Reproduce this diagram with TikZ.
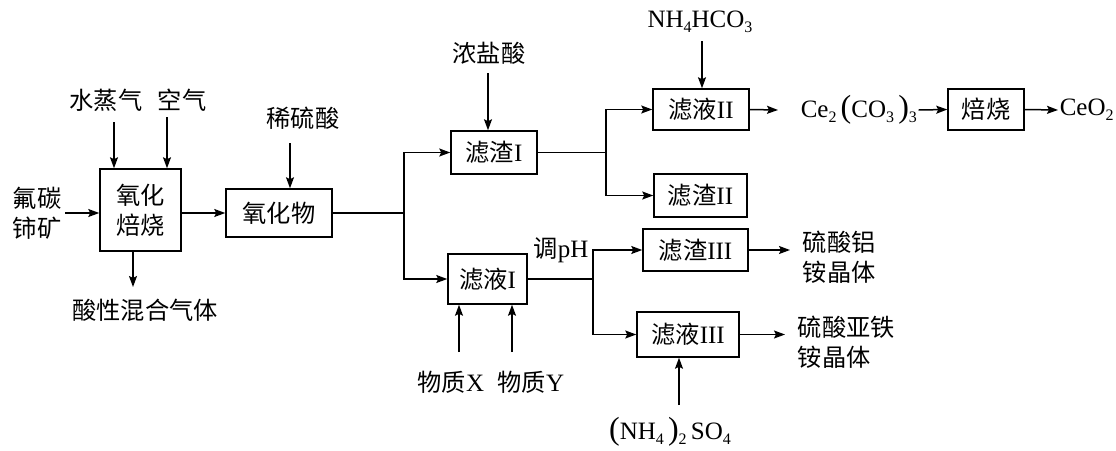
\documentclass[tikz,border=0pt]{standalone}
\usepackage{fontspec}
\setmainfont{Liberation Serif}
\newfontfamily\cjk[Scale=0.97]{Noto Sans CJK SC}
\usetikzlibrary{arrows.meta,calc}
\newcommand\zh[1]{{\cjk #1}}
\newcommand\sbs[1]{\raisebox{-0.4ex}{\fontsize{16}{16}\selectfont #1}}
\newcommand\bigp[1]{{\fontsize{32}{32}\selectfont #1}}
\begin{document}
\begin{tikzpicture}[x=1pt,y=-1pt,line width=1.5pt,
  font=\fontsize{25}{30}\selectfont,
  box/.style={draw,inner sep=0pt,line width=1.5pt},
  lbl/.style={inner sep=1pt},
  arr/.style={-{Stealth[length=11pt,width=8pt,inset=2pt]}}]
\fill[white] (0,0) rectangle (1116,450);
\useasboundingbox (0,0) rectangle (1116,450);
% boxes
\node[box,minimum width=81,minimum height=82,align=center] (ox) at (140.5,210) {\zh{氧化}\\\zh{焙烧}};
\node[box,minimum width=106,minimum height=48] (oxw) at (279,213) {\zh{氧化物}};
\node[box,minimum width=86,minimum height=43] (zz1) at (494,152.5) {\zh{滤渣}I};
\node[box,minimum width=96,minimum height=41] (zy2) at (701,109.5) {\zh{滤液}II};
\node[box,minimum width=93,minimum height=43] (zz2) at (700.5,195.5) {\zh{滤渣}II};
\node[box,minimum width=76,minimum height=41] (bs) at (986,109.5) {\zh{焙烧}};
\node[box,minimum width=79,minimum height=50] (zy1) at (487.5,279) {\zh{滤液}I};
\node[box,minimum width=105,minimum height=42] (zz3) at (695.5,250) {\zh{滤渣}III};
\node[box,minimum width=102,minimum height=45] (zy3) at (688,334.5) {\zh{滤液}III};
% labels
\node[lbl] (szq) at (106,100) {\zh{水蒸气}};
\node[lbl] (kq) at (182,100) {\zh{空气}};
\node[lbl,align=center] (ore) at (37,213) {\zh{氟碳}\\\zh{铈矿}};
\node[lbl] (xls) at (303,118) {\zh{稀硫酸}};
\node[lbl] (gas) at (145,310) {\zh{酸性混合气体}};
\node[lbl] (nys) at (489,53) {\zh{浓盐酸}};
\node[lbl] (nh) at (700,22) {NH\sbs{4}HCO\sbs{3}};
\node[lbl,anchor=west] (ce) at (799,110) {Ce\sbs{2}\,\bigp{(}CO\sbs{3}\,\bigp{)}\sbs{3}};
\node[lbl,anchor=west] (ceo) at (1058,110) {CeO\sbs{2}};
\node[lbl] (tph) at (561,250) {\zh{调}pH};
\node[lbl] (wx) at (451,382) {\zh{物质}X};
\node[lbl] (wy) at (531,382) {\zh{物质}Y};
\node[lbl] (nhs) at (670,432) {\bigp{(}NH\sbs{4}\,\bigp{)}\sbs{2}\,SO\sbs{4}};
\node[lbl,anchor=west,align=left] (al) at (801,257) {\zh{硫酸铝}\\\zh{铵晶体}};
\node[lbl,anchor=west,align=left] (fe) at (796,342) {\zh{硫酸亚铁}\\\zh{铵晶体}};
% coordinates
\coordinate (a1) at (114,122);
\coordinate (a2) at (167,117);
\coordinate (a3) at (65,213);
\coordinate (a4) at (290,143);
\coordinate (a5) at (133,287);
\coordinate (a6) at (488,73);
\coordinate (a7) at (702,41);
\coordinate (a8) at (459,352);
\coordinate (a9) at (512,352);
\coordinate (a10) at (679,405);
\coordinate (j1) at (404,213);
\coordinate (j2) at (606,152.5);
\coordinate (j3) at (593,279);
\coordinate (c1) at (778,110);
% connectors
\draw[arr] (a1) -- (a1 |- ox.north);
\draw[arr] (a2) -- (a2 |- ox.north);
\draw[arr] (a3) -- (a3 -| ox.west);
\draw[arr] (ox.east |- oxw.west) -- (oxw.west);
\draw[arr] (a4) -- (a4 |- oxw.north);
\draw[arr] (a5 |- ox.south) -- (a5);
\draw (oxw.east) -- (j1);
\draw[arr] (j1) |- (zz1.west);
\draw[arr] (j1) |- (zy1.west);
\draw[arr] (a6) -- (a6 |- zz1.north);
\draw (zz1.east) -- (j2);
\draw[arr] (j2) |- (zy2.west);
\draw[arr] (j2) |- (zz2.west);
\draw[arr] (a7) -- (a7 |- zy2.north);
\draw[arr] (zy2.east) -- (c1);
\draw[arr] (ce.east) -- (bs.west);
\draw[arr] (bs.east) -- (ceo.west);
\draw (zy1.east) -- (j3);
\draw[arr] (j3) |- (zz3.west);
\draw[arr] (j3) |- (zy3.west);
\draw[arr,shorten >=11pt] (zz3.east) -- (al.west |- zz3.east);
\draw[arr,shorten >=11pt] (zy3.east) -- (fe.west |- zy3.east);
\draw[arr] (a8) -- (a8 |- zy1.south);
\draw[arr] (a9) -- (a9 |- zy1.south);
\draw[arr] (a10) -- (a10 |- zy3.south);
\end{tikzpicture}
\end{document}
